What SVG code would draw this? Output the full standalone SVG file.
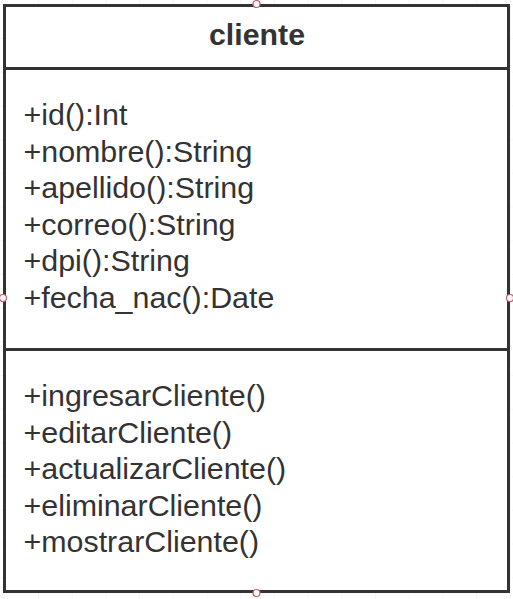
<svg xmlns="http://www.w3.org/2000/svg" width="513" height="599" viewBox="0 0 513 599">
  <defs>
    <pattern id="grid" width="33.7" height="33.7" patternUnits="userSpaceOnUse" x="4.3" y="4.3">
      <path d="M 33.7 0 L 0 0 0 33.7" fill="none" stroke="#eeeeee" stroke-width="1"/>
    </pattern>
    <style>
      .box { fill: #ffffff; stroke: #333333; stroke-width: 3; }
      .div { stroke: #333333; stroke-width: 3; }
      .title { font-family: "Liberation Sans", Arial, sans-serif; font-size: 30.3px; font-weight: bold; fill: #333333; }
      .member { font-family: "Liberation Sans", Arial, sans-serif; font-size: 30.4px; fill: #333333; }
      .pt { fill: #ffffff; stroke: #c06070; stroke-width: 1.2; }
    </style>
  </defs>
  <rect width="513" height="599" fill="#ffffff"/>
  <rect width="513" height="599" fill="url(#grid)"/>
  <g id="cliente">
    <rect class="box" x="4.5" y="5.5" width="504" height="586"/>
    <line class="div" x1="4.5" y1="68.5" x2="508.5" y2="68.5"/>
    <line class="div" x1="4.5" y1="349.5" x2="508.5" y2="349.5"/>
    <text class="title" x="257" y="45" text-anchor="middle">cliente</text>
    <text class="member" x="23.5" y="125">+id():Int</text>
    <text class="member" x="23.5" y="161.5">+nombre():String</text>
    <text class="member" x="23.5" y="198">+apellido():String</text>
    <text class="member" x="23.5" y="234.5">+correo():String</text>
    <text class="member" x="23.5" y="271">+dpi():String</text>
    <text class="member" x="23.5" y="307.5">+fecha_nac():Date</text>
    <text class="member" x="23.5" y="406">+ingresarCliente()</text>
    <text class="member" x="23.5" y="442.5">+editarCliente()</text>
    <text class="member" x="23.5" y="479">+actualizarCliente()</text>
    <text class="member" x="23.5" y="515.5">+eliminarCliente()</text>
    <text class="member" x="23.5" y="552">+mostrarCliente()</text>
  </g>
  <g id="connectors">
    <circle class="pt" cx="256.5" cy="4" r="3.5"/>
    <circle class="pt" cx="3" cy="298" r="3.5"/>
    <circle class="pt" cx="510" cy="298" r="3.5"/>
    <circle class="pt" cx="256.5" cy="593" r="3.5"/>
  </g>
</svg>
